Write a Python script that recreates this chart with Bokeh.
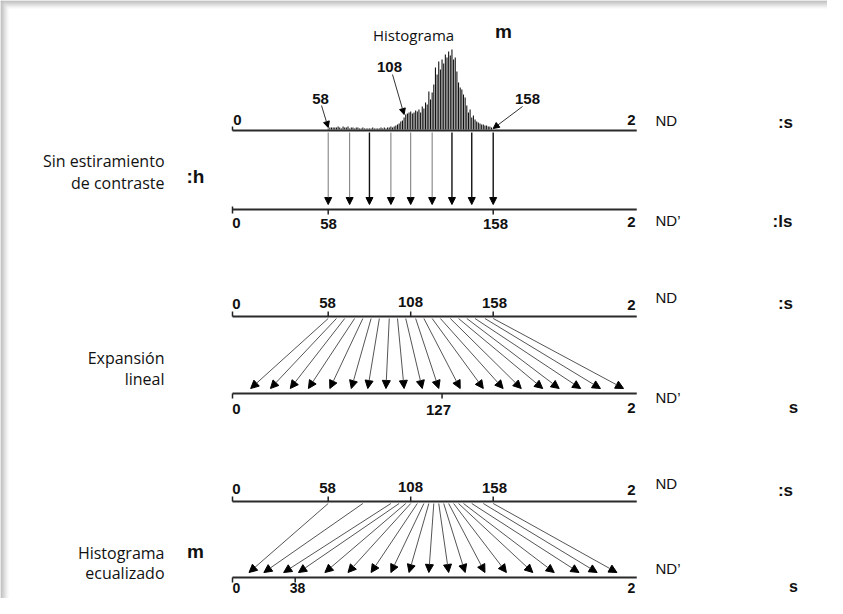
from bokeh.plotting import figure
from bokeh.models import Range1d, Arrow, NormalHead, ColumnDataSource
from bokeh.core.properties import value
from bokeh.embed import file_html
from bokeh.resources import INLINE

# ---------------- data ----------------
# histogram of the original image (DN 58..157), heights
hist_dn = list(range(58, 158))
hist_counts = [1, 2, 2, 2, 2, 2, 3, 2, 1, 3,
               2, 2, 3, 1, 2, 2, 1, 2, 2, 1,
               1, 2, 1, 1, 1, 1, 1, 2, 1, 1,
               1, 1, 2, 1, 2, 1, 2, 2, 3, 2,
               3, 4, 5, 6, 8, 9, 12, 15, 16, 17,
               18, 16, 17, 19, 18, 20, 17, 23, 21, 27,
               25, 38, 30, 37, 45, 62, 55, 68, 60, 70,
               66, 75, 72, 78, 74, 80, 70, 72, 58, 47,
               42, 40, 35, 32, 24, 17, 20, 12, 14, 10,
               8, 7, 6, 5, 5, 4, 4, 3, 3, 2]

# no stretch: input DN -> same output DN
nostretch_in = [58, 71, 83, 96, 108, 121, 133, 145, 158]
nostretch_out = [58, 71, 83, 96, 108, 121, 133, 145, 158]
nostretch_bold = [False, False, True, False, False, False, True, True, True]

# linear expansion
linear_in = [58, 63, 68, 74, 79, 84, 89, 95, 100, 105,
             111, 116, 121, 126, 132, 137, 142, 147, 153, 158]
linear_out = [11, 23, 35, 46, 59, 72, 82, 93, 104, 115,
              125, 138, 152, 164, 175, 188, 198, 211, 223, 237]

# histogram equalization
equal_in = [58, 79, 96, 101, 105, 108, 112, 116, 119, 122,
            125, 128, 131, 134, 137, 140, 145, 152, 158]
equal_out = [10, 19, 31, 40, 56, 70, 84, 96, 107, 119,
             131, 141, 153, 166, 182, 195, 210, 221, 233]

top_ticks = [58, 108, 158]
top_tick_labels = ["58", "108", "158"]
nostretch_out_ticks = [58, 158]
linear_out_ticks = [127]
equal_out_ticks = [38]
axis_min, axis_max = 0, 245

# ---------------- layout helpers ----------------
PX0, SC = 232.0, 1.65          # picture pixel of DN 0, pixels per DN
W, H = 827, 598


def X(px):
    return (px - PX0) / SC


R1, R2 = 130, 209               # rows of the axes (picture pixels)
R3T, R3B = 316, 393
R4T, R4B = 501, 577

p = figure(width=W, height=H, x_range=Range1d(X(0), X(W)),
           y_range=Range1d(H, 0), output_backend="svg",
           toolbar_location=None, min_border=0,
           x_axis_location=None, y_axis_location=None)
p.grid.visible = False
p.outline_line_color = None
p.background_fill_color = "white"
p.border_fill_color = "white"

# frame shadow (top and left)
shades = ["#a9a9a9", "#b4b4b4", "#bfbfbf", "#cacaca", "#d5d5d5", "#e0e0e0", "#ebebeb", "#f5f5f5"]
for i, c in enumerate(shades):
    p.quad(left=[X(i)], right=[X(W)], top=[i], bottom=[i + 1], fill_color=c, line_color=None)
    p.quad(left=[X(i)], right=[X(i + 1)], top=[i], bottom=[H], fill_color=c, line_color=None)


def txt(xs, ys, texts, size, bold=False, font="Liberation Sans", align="center",
        color="#111111"):
    p.text(x=xs, y=ys, text=texts, text_font=value(font),
           text_font_size=value(f"{size}px"),
           text_font_style=value("bold" if bold else "normal"),
           text_align=value(align), text_baseline=value("middle"),
           text_color=color)


def axis_line(y):
    p.segment(x0=[axis_min], x1=[axis_max], y0=[y], y1=[y],
              line_color="#2a2a2a", line_width=2)


AXL = "#222222"

# ---------------- row 1: histogram ----------------
axis_line(R1)
p.segment(x0=[axis_min], x1=[axis_min], y0=[R1 - 4], y1=[R1], line_color=AXL, line_width=1.5)
p.vbar(x=hist_dn, width=0.65, top=[R1 - 1 - h for h in hist_counts], bottom=R1 - 1,
       fill_color="#101010", line_color=None)
txt([X(413)], [34], ["Histograma"], 15, font="Open Sans")
txt([X(503)], [31], ["m"], 19, bold=True)
txt([X(320), X(389), X(527)], [98, 66, 98], top_tick_labels, 15, bold=True)
ptr = ColumnDataSource(dict(xs=[X(321), X(392), X(522)], ys=[105, 74, 106],
                            xe=[58, 104, 158], ye=[127, 114, 128]))
p.add_layout(Arrow(end=NormalHead(size=6, fill_color="black", line_color="black"),
                   x_start="xs", y_start="ys", x_end="xe", y_end="ye", source=ptr,
                   line_color="#333333", line_width=1))
txt([X(237), X(631)], [119, 119], ["0", "2"], 15, bold=True)
txt([X(655)], [120], ["ND"], 15, align="left")
txt([X(785)], [122], [":s"], 17, bold=True)

# ---------------- row 2: no stretch ----------------
axis_line(R2)
p.segment(x0=[axis_min], x1=[axis_min], y0=[R2 - 3], y1=[R2 + 4], line_color=AXL, line_width=1.5)
p.segment(x0=nostretch_out_ticks, x1=nostretch_out_ticks, y0=[R2] * 2, y1=[R2 + 5] * 2,
          line_color=AXL, line_width=1.5)
for bold in (False, True):
    xi = [a for a, b in zip(nostretch_in, nostretch_bold) if b == bold]
    xo = [a for a, b in zip(nostretch_out, nostretch_bold) if b == bold]
    src = ColumnDataSource(dict(xs=xi, ys=[R1 + 2] * len(xi), xe=xo, ye=[R2 - 5] * len(xo)))
    p.add_layout(Arrow(end=NormalHead(size=7, fill_color="black", line_color="black"),
                       x_start="xs", y_start="ys", x_end="xe", y_end="ye", source=src,
                       line_color="#111111" if bold else "#777777",
                       line_width=1.4 if bold else 1))
txt([X(236), X(631)], [222, 221], ["0", "2"], 15, bold=True)
txt([X(328), X(495)], [223, 223], ["58", "158"], 15, bold=True)
txt([X(655)], [220], ["ND\u2019"], 15, align="left")
txt([X(782)], [221], [":ls"], 17, bold=True)
txt([X(164), X(164)], [160, 182], ["Sin estiramiento", "de contraste"], 16,
    font="Open Sans", align="right")
txt([X(195)], [176], [":h"], 19, bold=True)

# ---------------- row 3: linear expansion ----------------
axis_line(R3T)
axis_line(R3B)
p.segment(x0=[axis_min] + top_ticks, x1=[axis_min] + top_ticks, y0=[R3T] * 4, y1=[R3T - 5] * 4,
          line_color=AXL, line_width=1.5)
p.segment(x0=[axis_min] + linear_out_ticks, x1=[axis_min] + linear_out_ticks,
          y0=[R3B] * 2, y1=[R3B + 5] * 2, line_color=AXL, line_width=1.5)
src3 = ColumnDataSource(dict(xs=linear_in, ys=[R3T + 2] * len(linear_in),
                             xe=linear_out, ye=[R3B - 5] * len(linear_out)))
p.add_layout(Arrow(end=NormalHead(size=8, fill_color="black", line_color="black"),
                   x_start="xs", y_start="ys", x_end="xe", y_end="ye", source=src3,
                   line_color="#555555", line_width=1))
txt([X(236), X(631)], [303, 304], ["0", "2"], 15, bold=True)
txt([X(327), X(410), X(494)], [302, 301, 302], top_tick_labels, 15, bold=True)
txt([X(655)], [297], ["ND"], 15, align="left")
txt([X(785)], [303], [":s"], 17, bold=True)
txt([X(236), X(438), X(631)], [408, 409, 407], ["0", "127", "2"], 15, bold=True)
txt([X(655)], [397], ["ND\u2019"], 15, align="left")
txt([X(793)], [407], ["s"], 17, bold=True)
txt([X(164), X(164)], [357, 378], ["Expansión", "lineal"], 16,
    font="Open Sans", align="right")

# ---------------- row 4: histogram equalization ----------------
axis_line(R4T)
axis_line(R4B)
p.segment(x0=[axis_min] + top_ticks, x1=[axis_min] + top_ticks, y0=[R4T] * 4, y1=[R4T - 5] * 4,
          line_color=AXL, line_width=1.5)
p.segment(x0=[axis_min] + equal_out_ticks, x1=[axis_min] + equal_out_ticks,
          y0=[R4B] * 2, y1=[R4B + 5] * 2, line_color=AXL, line_width=1.5)
src4 = ColumnDataSource(dict(xs=equal_in, ys=[R4T + 2] * len(equal_in),
                             xe=equal_out, ye=[R4B - 5] * len(equal_out)))
p.add_layout(Arrow(end=NormalHead(size=8, fill_color="black", line_color="black"),
                   x_start="xs", y_start="ys", x_end="xe", y_end="ye", source=src4,
                   line_color="#555555", line_width=1))
txt([X(236), X(631)], [488, 489], ["0", "2"], 15, bold=True)
txt([X(327), X(410), X(494)], [487, 486, 487], top_tick_labels, 15, bold=True)
txt([X(655)], [483], ["ND"], 15, align="left")
txt([X(785)], [490], [":s"], 17, bold=True)
txt([X(236), X(297), X(631)], [587, 587, 587], ["0", "38", "2"], 14, bold=True)
txt([X(655)], [568], ["ND\u2019"], 15, align="left")
txt([X(793)], [586], ["s"], 16, bold=True)
txt([X(164), X(164)], [552, 572], ["Histograma", "ecualizado"], 16,
    font="Open Sans", align="right")
txt([X(195)], [551], ["m"], 19, bold=True)

open("out.html", "w").write(file_html(p, INLINE))
